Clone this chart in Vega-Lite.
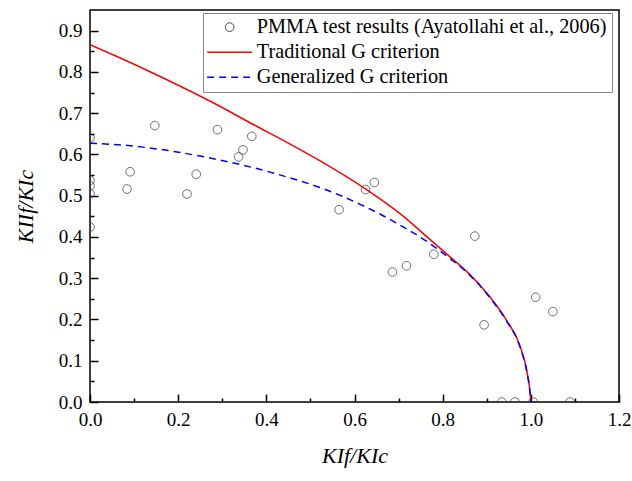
{
  "$schema": "https://vega.github.io/schema/vega-lite/v6.json",
  "width": 529,
  "height": 392,
  "autosize": {"type": "none"},
  "padding": {"left": 90, "top": 10, "right": 13, "bottom": 79},
  "background": "white",
  "config": {
    "view": {"stroke": "black", "strokeWidth": 1.5},
    "font": "Liberation Serif",
    "axis": {
      "grid": false,
      "domain": false,
      "ticks": true,
      "zindex": 2,
      "tickColor": "#000000",
      "tickOpacity": 1,
      "tickWidth": 1.5,
      "labelFont": "Liberation Serif",
      "labelFontSize": 19,
      "labelColor": "black",
      "titleFont": "Liberation Serif",
      "titleFontSize": 22,
      "titleFontStyle": "italic",
      "titleFontWeight": "normal",
      "titleColor": "black"
    }
  },
  "resolve": {
    "scale": {"x": "independent", "y": "independent"},
    "axis": {"x": "independent", "y": "independent"}
  },
  "datasets": {
    "pts": [
      {"series": "PMMA test results (Ayatollahi et al., 2006)", "x": 0, "y": 0.640},
      {"series": "PMMA test results (Ayatollahi et al., 2006)", "x": 0, "y": 0.537},
      {"series": "PMMA test results (Ayatollahi et al., 2006)", "x": 0, "y": 0.524},
      {"series": "PMMA test results (Ayatollahi et al., 2006)", "x": 0, "y": 0.505},
      {"series": "PMMA test results (Ayatollahi et al., 2006)", "x": 0, "y": 0.424},
      {"series": "PMMA test results (Ayatollahi et al., 2006)", "x": 0.084, "y": 0.516},
      {"series": "PMMA test results (Ayatollahi et al., 2006)", "x": 0.091, "y": 0.558},
      {"series": "PMMA test results (Ayatollahi et al., 2006)", "x": 0.147, "y": 0.670},
      {"series": "PMMA test results (Ayatollahi et al., 2006)", "x": 0.220, "y": 0.504},
      {"series": "PMMA test results (Ayatollahi et al., 2006)", "x": 0.241, "y": 0.552},
      {"series": "PMMA test results (Ayatollahi et al., 2006)", "x": 0.289, "y": 0.660},
      {"series": "PMMA test results (Ayatollahi et al., 2006)", "x": 0.337, "y": 0.594},
      {"series": "PMMA test results (Ayatollahi et al., 2006)", "x": 0.347, "y": 0.611},
      {"series": "PMMA test results (Ayatollahi et al., 2006)", "x": 0.367, "y": 0.644},
      {"series": "PMMA test results (Ayatollahi et al., 2006)", "x": 0.565, "y": 0.466},
      {"series": "PMMA test results (Ayatollahi et al., 2006)", "x": 0.625, "y": 0.515},
      {"series": "PMMA test results (Ayatollahi et al., 2006)", "x": 0.645, "y": 0.532},
      {"series": "PMMA test results (Ayatollahi et al., 2006)", "x": 0.686, "y": 0.315},
      {"series": "PMMA test results (Ayatollahi et al., 2006)", "x": 0.718, "y": 0.330},
      {"series": "PMMA test results (Ayatollahi et al., 2006)", "x": 0.780, "y": 0.358},
      {"series": "PMMA test results (Ayatollahi et al., 2006)", "x": 0.873, "y": 0.402},
      {"series": "PMMA test results (Ayatollahi et al., 2006)", "x": 0.894, "y": 0.187},
      {"series": "PMMA test results (Ayatollahi et al., 2006)", "x": 1.011, "y": 0.254},
      {"series": "PMMA test results (Ayatollahi et al., 2006)", "x": 1.050, "y": 0.219},
      {"series": "PMMA test results (Ayatollahi et al., 2006)", "x": 0.934, "y": 0},
      {"series": "PMMA test results (Ayatollahi et al., 2006)", "x": 0.964, "y": 0},
      {"series": "PMMA test results (Ayatollahi et al., 2006)", "x": 1.005, "y": 0},
      {"series": "PMMA test results (Ayatollahi et al., 2006)", "x": 1.089, "y": 0}
    ],
    "trad": [
      {"series": "Traditional G criterion", "x": 0, "y": 0.866},
      {"series": "Traditional G criterion", "x": 0.07, "y": 0.833},
      {"series": "Traditional G criterion", "x": 0.147, "y": 0.795},
      {"series": "Traditional G criterion", "x": 0.287, "y": 0.721},
      {"series": "Traditional G criterion", "x": 0.366, "y": 0.675},
      {"series": "Traditional G criterion", "x": 0.454, "y": 0.625},
      {"series": "Traditional G criterion", "x": 0.529, "y": 0.580},
      {"series": "Traditional G criterion", "x": 0.624, "y": 0.517},
      {"series": "Traditional G criterion", "x": 0.711, "y": 0.450},
      {"series": "Traditional G criterion", "x": 0.771, "y": 0.394},
      {"series": "Traditional G criterion", "x": 0.824, "y": 0.345},
      {"series": "Traditional G criterion", "x": 0.855, "y": 0.316},
      {"series": "Traditional G criterion", "x": 0.907, "y": 0.255},
      {"series": "Traditional G criterion", "x": 0.945, "y": 0.198},
      {"series": "Traditional G criterion", "x": 0.976, "y": 0.134},
      {"series": "Traditional G criterion", "x": 0.992, "y": 0.069},
      {"series": "Traditional G criterion", "x": 0.998, "y": 0.025},
      {"series": "Traditional G criterion", "x": 1.0, "y": 0}
    ],
    "gen": [
      {"series": "Generalized G criterion", "x": 0, "y": 0.627},
      {"series": "Generalized G criterion", "x": 0.07, "y": 0.623},
      {"series": "Generalized G criterion", "x": 0.147, "y": 0.614},
      {"series": "Generalized G criterion", "x": 0.287, "y": 0.588},
      {"series": "Generalized G criterion", "x": 0.366, "y": 0.569},
      {"series": "Generalized G criterion", "x": 0.454, "y": 0.543},
      {"series": "Generalized G criterion", "x": 0.529, "y": 0.517},
      {"series": "Generalized G criterion", "x": 0.613, "y": 0.479},
      {"series": "Generalized G criterion", "x": 0.703, "y": 0.429},
      {"series": "Generalized G criterion", "x": 0.771, "y": 0.384},
      {"series": "Generalized G criterion", "x": 0.809, "y": 0.354},
      {"series": "Generalized G criterion", "x": 0.855, "y": 0.314},
      {"series": "Generalized G criterion", "x": 0.907, "y": 0.253},
      {"series": "Generalized G criterion", "x": 0.945, "y": 0.196},
      {"series": "Generalized G criterion", "x": 0.976, "y": 0.132},
      {"series": "Generalized G criterion", "x": 0.992, "y": 0.068},
      {"series": "Generalized G criterion", "x": 0.998, "y": 0.025},
      {"series": "Generalized G criterion", "x": 1.0, "y": 0}
    ]
  },
  "encoding": {
    "color": {
      "field": "series", "type": "nominal",
      "scale": {
        "domain": ["PMMA test results (Ayatollahi et al., 2006)", "Traditional G criterion", "Generalized G criterion"],
        "range": ["#333333", "#ff0000", "#0000ff"]
      },
      "legend": {
        "title": null,
        "orient": "none",
        "legendX": 113,
        "legendY": 3,
        "strokeColor": "#888888",
        "fillColor": "white",
        "padding": 4,
        "symbolType": "stroke",
        "symbolSize": 2025,
        "symbolOffset": 12.5,
        "symbolStrokeWidth": 1.5,
        "labelFont": "Liberation Serif",
        "labelFontSize": 20.3,
        "labelColor": "black",
        "labelOffset": 17,
        "rowPadding": 4,
        "labelLimit": 500,
        "encode": {
          "symbols": {
            "update": {
              "shape": {"signal": "datum.value == 'PMMA test results (Ayatollahi et al., 2006)' ? 'circle' : 'stroke'"},
              "size": {"signal": "datum.value == 'PMMA test results (Ayatollahi et al., 2006)' ? 75 : 2025"},
              "strokeDash": {"signal": "datum.value == 'Generalized G criterion' ? [7, 5] : [1, 0]"},
              "strokeWidth": {"signal": "datum.value == 'PMMA test results (Ayatollahi et al., 2006)' ? 1 : 1.5"},
              "fill": {"value": "transparent"}
            }
          }
        }
      }
    }
  },
  "layer": [
    {
      "data": {"name": "trad"},
      "mark": {"type": "line", "strokeWidth": 1.5, "interpolate": "monotone", "clip": true},
      "encoding": {
        "x": {
          "field": "x", "type": "quantitative",
          "scale": {"domain": [0, 1.2], "nice": false, "zero": false},
          "axis": {
            "orient": "bottom", "offset": -8, "tickSize": 8,
            "title": "KIf/KIc",
            "values": [0, 0.2, 0.4, 0.6, 0.8, 1.0, 1.2],
            "format": ".1f",
            "labelPadding": 8,
            "titlePadding": 16,
            "labelFlush": false
          }
        },
        "y": {
          "field": "y", "type": "quantitative",
          "scale": {"domain": [0, 0.95], "nice": false, "zero": false},
          "axis": {
            "orient": "left", "offset": -8, "tickSize": 8,
            "title": "KIIf/KIc",
            "values": [0, 0.1, 0.2, 0.3, 0.4, 0.5, 0.6, 0.7, 0.8, 0.9],
            "format": ".1f",
            "labelPadding": 8,
            "titlePadding": 21,
            "labelFlush": false
          }
        }
      }
    },
    {
      "data": {"name": "gen"},
      "mark": {"type": "line", "strokeWidth": 1.5, "strokeDash": [7, 5], "interpolate": "monotone", "clip": true},
      "encoding": {
        "x": {
          "field": "x", "type": "quantitative",
          "scale": {"domain": [0, 1.2], "nice": false, "zero": false},
          "axis": {
            "orient": "bottom", "offset": -4, "tickSize": 4,
            "title": null, "labels": false,
            "values": [0.1, 0.3, 0.5, 0.7, 0.9, 1.1]
          }
        },
        "y": {
          "field": "y", "type": "quantitative",
          "scale": {"domain": [0, 0.95], "nice": false, "zero": false},
          "axis": {
            "orient": "left", "offset": -4, "tickSize": 4,
            "title": null, "labels": false,
            "values": [0.05, 0.15, 0.25, 0.35, 0.45, 0.55, 0.65, 0.75, 0.85]
          }
        }
      }
    },
    {
      "data": {"name": "pts"},
      "mark": {"type": "point", "shape": "circle", "filled": false, "size": 75, "strokeWidth": 1, "clip": true},
      "encoding": {
        "x": {
          "field": "x", "type": "quantitative",
          "scale": {"domain": [0, 1.2], "nice": false, "zero": false},
          "axis": null
        },
        "y": {
          "field": "y", "type": "quantitative",
          "scale": {"domain": [0, 0.95], "nice": false, "zero": false},
          "axis": null
        }
      }
    }
  ]
}
